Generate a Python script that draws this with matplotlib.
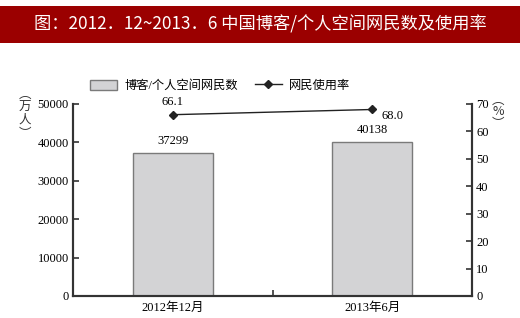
import numpy as np
import matplotlib
matplotlib.use("Agg")
import matplotlib.pyplot as plt
from matplotlib.patches import Rectangle
from matplotlib.lines import Line2D

plt.rcParams['font.family'] = ['Liberation Serif', 'Noto Sans CJK SC']

# data
categories = ['2012年12月', '2013年6月']
users = [37299, 40138]          # 万人
rate = [66.1, 68.0]             # %
title = '图：2012．12~2013．6 中国博客/个人空间网民数及使用率'

fig = plt.figure(figsize=(5.2, 3.18), dpi=100)

# red banner
fig.patches.append(Rectangle((0, 1 - 43 / 318), 1, 37 / 318, transform=fig.transFigure,
                             facecolor='#9b0000', edgecolor='none', zorder=0))
fig.text(0.5, 1 - 24 / 318, title, color='white', fontsize=12.4, ha='center', va='center',
         family=['Noto Sans CJK SC', 'DejaVu Sans'], fontweight='medium')

ax = fig.add_axes([73 / 520, 22 / 318, 399 / 520, 192 / 318])
ax2 = ax.twinx()

x = np.array([0.25, 0.75])
ax.bar(x, users, width=0.2, color='#d3d3d5', edgecolor='#7a7a7a', linewidth=1.0, zorder=2)
for xi, v in zip(x, users):
    ax.text(xi, v + 1500, str(v), ha='center', va='bottom', fontsize=9)

ax.set_xlim(0, 1)
ax.set_ylim(0, 50000)
ax.set_yticks(np.arange(0, 50001, 10000))
ax.set_xticks([0.5])
ax.set_xticklabels([])
ax.set_xticks(x, minor=True)
ax.set_xticklabels(categories, minor=True, fontsize=9)
ax.tick_params(axis='x', which='minor', length=0, pad=4)
ax.tick_params(axis='x', which='major', direction='in', length=4, width=1.2, color='#333333')
ax.tick_params(axis='y', direction='in', length=4, width=1.2, labelsize=9, color='#333333', pad=3)

ax2.plot(x, rate, color='#222222', marker='D', markersize=4, linewidth=1.0, zorder=3)
ax2.set_ylim(0, 70)
ax2.set_yticks(np.arange(0, 71, 10))
ax2.tick_params(axis='y', direction='in', length=4, width=1.2, labelsize=9, color='#333333', pad=3)
ax2.text(x[0], rate[0] + 2.3, '%.1f' % rate[0], ha='center', va='bottom', fontsize=9)
ax2.text(x[1] + 0.022, rate[1] - 0.3, '%.1f' % rate[1], ha='left', va='top', fontsize=9)

for a in (ax, ax2):
    a.spines['top'].set_visible(False)
    for s in ('left', 'right', 'bottom'):
        a.spines[s].set_linewidth(1.5)
        a.spines[s].set_color('#333333')

# axis unit labels
fig.text(25 / 520, 1 - 114 / 318, '︵\n万\n人\n︶', ha='center', va='center', fontsize=9,
         linespacing=1.0, family=['Noto Sans CJK SC'], color='#333333')
fig.text(498 / 520, 1 - 112 / 318, '︵\n%\n︶', ha='center', va='center', fontsize=9,
         linespacing=0.9, family=['Noto Sans CJK SC', 'DejaVu Sans'], color='#333333')

handles = [Rectangle((0, 0), 1, 1, facecolor='#d3d3d5', edgecolor='#7a7a7a'),
           Line2D([], [], color='#222222', marker='D', markersize=4, linewidth=1.0)]
fig.legend(handles, ['博客/个人空间网民数', '网民使用率'], loc='center',
           bbox_to_anchor=(220 / 520, 1 - 86 / 318), ncol=2, frameon=False, fontsize=8.8,
           handlelength=2.2, handleheight=0.9, columnspacing=1.4, handletextpad=0.6)

fig.savefig('out.png', dpi=100)
